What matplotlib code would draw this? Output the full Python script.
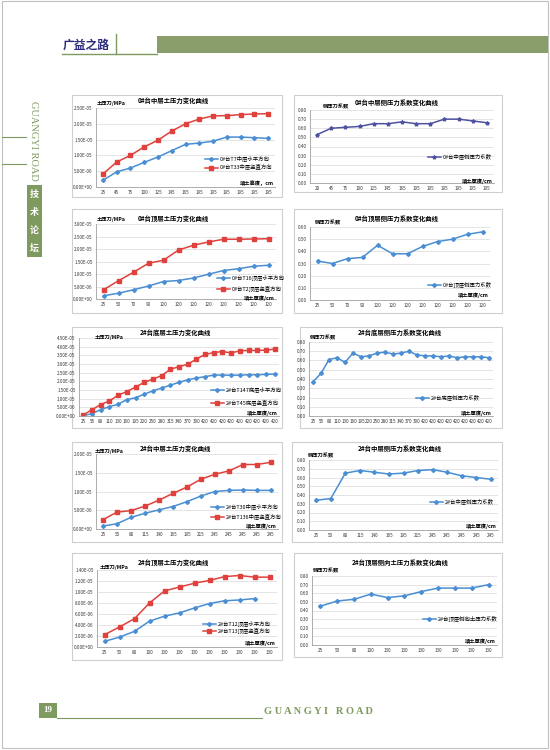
import numpy as np
import matplotlib
matplotlib.use('Agg')
import matplotlib.pyplot as plt
from matplotlib.patches import Rectangle
from matplotlib.lines import Line2D

plt.rcParams['font.family'] = ['Noto Sans CJK SC', 'DejaVu Sans']

W, H = 550, 750

# ---------------- 数据 ----------------
c1_x = ['25', '45', '75', '100', '125', '145', '165', '195', '195', '195', '195', '195', '195']
c1_h = [2.1e-06, 4.8e-06, 6.0e-06, 7.8e-06, 9.5e-06, 1.15e-05, 1.35e-05, 1.39e-05, 1.45e-05, 1.58e-05, 1.58e-05, 1.56e-05, 1.54e-05]
c1_v = [4.1e-06, 7.9e-06, 1.0e-05, 1.27e-05, 1.48e-05, 1.77e-05, 2.0e-05, 2.15e-05, 2.25e-05, 2.26e-05, 2.29e-05, 2.31e-05, 2.32e-05]

c2_x = ['20', '45', '75', '100', '125', '145', '165', '195', '195', '195', '195', '195', '195']
c2_k = [0.53, 0.60, 0.61, 0.62, 0.65, 0.65, 0.67, 0.65, 0.65, 0.70, 0.70, 0.68, 0.66]

c3_x = ['25', '50', '70', '90', '120', '120', '120', '120', '120', '120', '120', '120']
c3_h = [1.3e-06, 2.3e-06, 3.7e-06, 5.2e-06, 7.0e-06, 7.4e-06, 8.4e-06, 9.9e-06, 1.14e-05, 1.21e-05, 1.31e-05, 1.35e-05]
c3_v = [3.7e-06, 7.3e-06, 1.07e-05, 1.43e-05, 1.55e-05, 1.96e-05, 2.15e-05, 2.28e-05, 2.39e-05, 2.39e-05, 2.40e-05, 2.41e-05]

c4_x = c3_x
c4_k = [0.32, 0.30, 0.34, 0.35, 0.45, 0.38, 0.38, 0.44, 0.48, 0.50, 0.54, 0.56]

c5_x = ['25', '55', '80', '110', '130', '160', '195', '220', '250', '280', '315', '340', '370', '390',
        '420', '420', '420', '420', '420', '420', '420', '420', '420']
c5_h = [2e-07, 1.4e-06, 3.7e-06, 5.4e-06, 6.8e-06, 9.5e-06, 1.05e-05, 1.26e-05, 1.45e-05, 1.61e-05, 1.78e-05, 1.94e-05,
        2.09e-05, 2.19e-05, 2.27e-05, 2.36e-05, 2.36e-05, 2.35e-05, 2.36e-05, 2.38e-05, 2.38e-05, 2.40e-05, 2.42e-05]
c5_v = [6e-07, 3.7e-06, 6.6e-06, 8.7e-06, 1.2e-05, 1.41e-05, 1.67e-05, 1.94e-05, 2.13e-05, 2.33e-05, 2.69e-05, 2.85e-05,
        2.98e-05, 3.29e-05, 3.55e-05, 3.66e-05, 3.72e-05, 3.64e-05, 3.76e-05, 3.78e-05, 3.78e-05, 3.80e-05, 3.86e-05]

c6_x = c5_x
c6_k = [0.37, 0.46, 0.61, 0.63, 0.58, 0.68, 0.64, 0.65, 0.68, 0.69, 0.67, 0.68, 0.70, 0.66, 0.65, 0.65, 0.64, 0.65,
        0.63, 0.64, 0.64, 0.64, 0.63]

c7_x = ['25', '50', '80', '115', '140', '165', '195', '215', '245', '245', '245', '245', '245']
c7_h = [8e-07, 1.4e-06, 3.1e-06, 4.2e-06, 5.1e-06, 6.0e-06, 7.3e-06, 8.8e-06, 1.0e-05, 1.03e-05, 1.04e-05, 1.03e-05, 1.03e-05]
c7_v = [2.5e-06, 4.5e-06, 4.9e-06, 6.1e-06, 7.7e-06, 9.5e-06, 1.12e-05, 1.33e-05, 1.46e-05, 1.55e-05, 1.72e-05, 1.72e-05, 1.78e-05]

c8_x = c7_x
c8_k = [0.34, 0.36, 0.65, 0.68, 0.66, 0.64, 0.65, 0.68, 0.69, 0.66, 0.62, 0.60, 0.58]

c9_x = ['25', '50', '80', '100', '130', '130', '130', '130', '130', '130', '130', '130']
c9_h = [1.03e-06, 1.8e-06, 2.85e-06, 4.7e-06, 5.6e-06, 6.2e-06, 7.1e-06, 7.9e-06, 8.4e-06, 8.55e-06, 8.8e-06, np.nan]
c9_v = [2.24e-06, 3.64e-06, 5.15e-06, 8.0e-06, 1.02e-05, 1.09e-05, 1.16e-05, 1.21e-05, 1.28e-05, 1.30e-05, 1.27e-05, 1.27e-05]

c10_x = ['25', '50', '80', '100', '130', '130', '130', '130', '130', '130', '130']
c10_k = [0.45, 0.51, 0.53, 0.59, 0.55, 0.57, 0.62, 0.66, 0.66, 0.66, 0.70]

BLUE = '#4a8ed3'
RED = '#e0413c'
GREEN = '#7f9a5f'

fig = plt.figure(figsize=(5.5, 7.5), dpi=100)


def fx(x):
    return x / W


def fy(y):
    return 1 - y / H


def sci(v, pos):
    return '{:.2E}'.format(v)


def two(v, pos):
    return '{:.2f}'.format(v)


def draw_chart(box, plot, title, title_xy, ylabel, ylabel_xy, xlabel, xlabel_y, xlabels, series,
               ymax, ystep, fmt, legend_xy, spacing):
    # 外框 (放在坐标轴下面)
    x0, y0, x1, y1 = box
    fig.add_artist(Rectangle((fx(x0), fy(y1)), (x1 - x0) / W, (y1 - y0) / H, zorder=-5,
                             transform=fig.transFigure, facecolor='white', edgecolor='#cfcfcf', lw=0.8))
    l, t, r, b = plot
    ax = fig.add_axes([fx(l), fy(b), (r - l) / W, (b - t) / H])
    n = len(xlabels)
    xs = np.arange(n)
    for vals, lab, col, mk, ms in series:
        ax.plot(xs, vals, color=col, marker=mk, markersize=ms, lw=1.1, label=lab)
    ax.set_xlim(-0.5, n - 0.5)
    ax.set_ylim(0, ymax)
    ax.set_yticks(np.arange(0, ymax + ystep / 2, ystep))
    ax.yaxis.set_major_formatter(plt.FuncFormatter(fmt))
    ax.set_xticks(xs)
    ax.set_xticklabels(xlabels)
    ax.tick_params(labelsize=3.3, length=0, pad=2.5, colors='#333333')
    ax.grid(axis='y', color='#d9d9d9', lw=0.5)
    ax.set_axisbelow(True)
    for s in ['top', 'right']:
        ax.spines[s].set_visible(False)
    for s in ['left', 'bottom']:
        ax.spines[s].set_color('#a0a0a0')
        ax.spines[s].set_linewidth(0.6)
    ax.patch.set_alpha(0)
    # 标题 / 坐标轴文字
    fig.text(fx(title_xy[0]), fy(title_xy[1]), title, fontsize=4.6, fontweight='bold', ha='center', va='center')
    fig.text(fx(ylabel_xy[0]), fy(ylabel_xy[1]), ylabel, fontsize=3.8, fontweight='bold', ha='left', va='center')
    fig.text(fx(r - 1), fy(xlabel_y), xlabel, fontsize=3.8, fontweight='bold', ha='right', va='center')
    ax.legend(loc='upper left', bbox_to_anchor=(fx(legend_xy[0]), fy(legend_xy[1] - 3.8)),
              bbox_transform=fig.transFigure, frameon=False, fontsize=3.9, handlelength=2.4,
              labelspacing=spacing, borderpad=0, handletextpad=0.3)
    return ax


# 第一行
draw_chart((72, 95, 282, 197), (96, 108, 275, 187), '0#台中层土压力变化曲线', (173, 100),
           '土压力/MPa', (97, 104), '填土高度，cm', 183, c1_x,
           [(c1_h, '0#台T7中层水平方向', BLUE, 'D', 2.0), (c1_v, '0#台T33中层竖直方向', RED, 's', 2.6)],
           2.5e-05, 5e-06, sci, (202, 157), 0.45)
draw_chart((294, 95, 502, 192), (310, 110, 494, 183), '0#台中层侧压力系数变化曲线', (397, 102),
           '侧压力系数', (323, 107), '填土厚度/cm', 181, c2_x,
           [(c2_k, '0#台中层侧压力系数', '#4f52a0', '*', 2.8)],
           0.8, 0.1, two, (425, 155), 0.5)

# 第二行
draw_chart((72, 209, 282, 313), (96, 224, 276, 299), '0#台顶层土压力变化曲线', (173, 218),
           '土压力/MPa', (97, 220), '填土厚度/cm', 298.5, c3_x,
           [(c3_h, '0#台T16顶层水平方向', BLUE, 'D', 2.0), (c3_v, '0#台T2顶层竖直方向', RED, 's', 2.6)],
           3e-05, 5e-06, sci, (214, 276), 0.95)
draw_chart((294, 209, 502, 313), (310, 227, 490, 300), '0#台顶层侧压力系数变化曲线', (397, 218),
           '侧压力系数', (315, 223), '填土厚度/cm', 295, c4_x,
           [(c4_k, '0#台顶层侧压力系数', BLUE, 'D', 2.0)],
           0.6, 0.1, two, (425, 283), 0.5)

# 第三行
draw_chart((72, 327, 282, 428), (79, 338, 279, 416), '2#台底层土压力变化曲线', (175, 333),
           '土压力/MPa', (95, 337), '填土厚度/cm', 413, c5_x,
           [(c5_h, '2#台T147底层水平方向', BLUE, 'D', 2.0), (c5_v, '2#台T45底层竖直方向', RED, 's', 2.6)],
           4.5e-05, 5e-06, sci, (208, 388), 1.2)
draw_chart((300, 327, 502, 428), (309, 342, 493, 416), '2#台底层侧压力系数变化曲线', (400, 333),
           '侧压力系数', (310, 338), '填土厚度/cm', 413, c6_x,
           [(c6_k, '2#台底层侧压力系数', BLUE, 'D', 2.0)],
           0.8, 0.1, two, (413, 396), 0.5)

# 第四行
draw_chart((72, 442, 282, 542), (96, 454, 278, 529), '2#台中层土压力变化曲线', (175, 448),
           '土压力/MPa', (95, 452), '填土厚度/cm', 526, c7_x,
           [(c7_h, '2#台T30中层水平方向', BLUE, 'D', 2.0), (c7_v, '2#台T136中层竖直方向', RED, 's', 2.6)],
           2e-05, 5e-06, sci, (208, 505), 0.8)
draw_chart((292, 442, 502, 542), (309, 460, 498, 530), '2#台中层侧压力系数变化曲线', (400, 448),
           '侧压力系数', (308, 456), '填土厚度/cm', 526, c8_x,
           [(c8_k, '2#台中层侧压力系数', BLUE, 'D', 2.0)],
           0.8, 0.1, two, (427, 500), 0.5)

# 第五行
draw_chart((72, 553, 282, 660), (97, 570, 277, 647), '2#台顶层土压力变化曲线', (173, 563),
           '土压力/MPa', (100, 567), '填土厚度/cm', 643, c9_x,
           [(c9_h, '2#台T12顶层水平方向', BLUE, 'D', 2.0), (c9_v, '2#台T13顶层竖直方向', RED, 's', 2.6)],
           1.4e-05, 2e-06, sci, (200, 622), 0.25)
draw_chart((294, 553, 502, 657), (312, 576, 497, 645), '2#台顶层侧向土压力系数变化曲线', (400, 563),
           '侧压力系数', (313, 571), '填土厚度/cm', 641, c10_x,
           [(c10_k, '2#台顶层侧向土压力系数', BLUE, 'D', 2.0)],
           0.8, 0.1, two, (420, 617), 0.5)

# ---------------- 版面装饰 ----------------
# 页面边框
fig.add_artist(Rectangle((fx(2), fy(748)), 546 / W, 747 / H, transform=fig.transFigure, zorder=-10,
                         facecolor='none', edgecolor='#c0c0c0', lw=0.8))
# 页眉
fig.add_artist(Rectangle((fx(157), fy(53)), (548 - 157) / W, 17 / H, transform=fig.transFigure,
                         facecolor='#8a9e6c', edgecolor='none'))
fig.add_artist(Line2D([fx(62), fx(157)], [fy(54), fy(54)], transform=fig.transFigure, color=GREEN, lw=1.0))
fig.add_artist(Line2D([fx(116), fx(116)], [fy(34), fy(54)], transform=fig.transFigure, color=GREEN, lw=1.0))
fig.text(fx(63), fy(45), '广益之路', fontsize=8.5, fontweight='bold', color='#2b2d7c', ha='left', va='center')

# 侧边栏
fig.text(fx(33), fy(141), 'GUANGYI ROAD', fontsize=7.5, color=GREEN, family='Liberation Serif',
         rotation=-90, ha='center', va='center')
fig.add_artist(Line2D([fx(2), fx(26)], [fy(137), fy(137)], transform=fig.transFigure, color=GREEN, lw=0.8))
fig.add_artist(Line2D([fx(2), fx(26)], [fy(164), fy(164)], transform=fig.transFigure, color=GREEN, lw=0.8))
fig.add_artist(Rectangle((fx(27), fy(257)), 15 / W, 72 / H, transform=fig.transFigure,
                         facecolor=GREEN, edgecolor='none'))
for i, ch in enumerate('技术论坛'):
    fig.text(fx(34.5), fy(194 + i * 18), ch, fontsize=6.5, fontweight='bold', color='white',
             ha='center', va='center')

# 页脚
fig.add_artist(Rectangle((fx(39), fy(718)), 18 / W, 15 / H, transform=fig.transFigure,
                         facecolor=GREEN, edgecolor='none'))
fig.text(fx(48), fy(710.5), '19', fontsize=6.5, fontweight='bold', color='white', family='Liberation Serif',
         ha='center', va='center')
fig.add_artist(Line2D([fx(57), fx(262)], [fy(718), fy(718)], transform=fig.transFigure, color=GREEN, lw=0.8))
fig.text(fx(318), fy(712), 'G U A N G Y I   R O A D', fontsize=7.5, fontweight='bold', color=GREEN,
         family='Liberation Serif', ha='center', va='center')

fig.savefig('out.png', dpi=100)
